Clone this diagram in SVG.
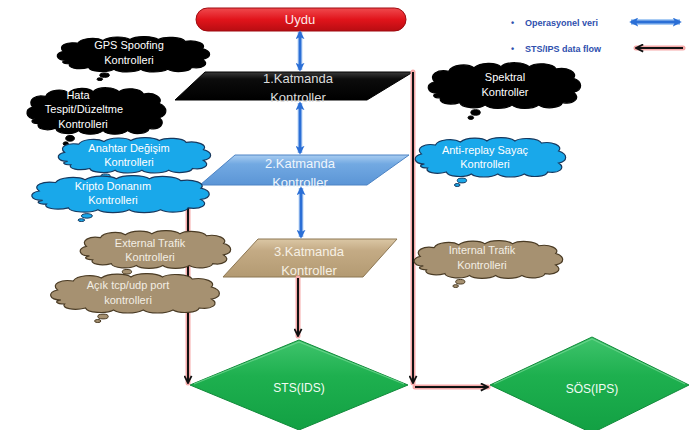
<svg xmlns="http://www.w3.org/2000/svg" xmlns:xlink="http://www.w3.org/1999/xlink" width="699" height="430" viewBox="0 0 699 430">
  <style>
    text { font-family: "Liberation Sans", Arial, sans-serif; text-anchor: middle; }
    .ct { font-size: 11px; fill: #ffffff; }
    .ct-tan { font-size: 11px; fill: #f3eee4; }
    .lt { font-size: 13px; }
    .dt { font-size: 12px; }
    .leg { font-size: 9px; font-weight: bold; fill: #2f4fae; text-anchor: start; }
    .cloud-black { fill: #000000; stroke: #000000; }
    .cloud-blue { fill: #19a8ea; stroke: #17385e; }
    .cloud-tan { fill: #a69171; stroke: #4a3b24; }
    .glow { fill: none; stroke: #f6a9a9; stroke-width: 5; stroke-linecap: round; }
    .flow { fill: none; stroke: #111111; stroke-width: 2; }
    .op-halo { fill: none; stroke: #d4e6fa; stroke-width: 5.5; }
    .op { fill: none; stroke: #2b6fd6; stroke-width: 3; }
  </style>
  <defs>
    <!-- cloud callout: lobed outline plus two trailing bubbles -->
    <symbol id="cloud" viewBox="0 0 100 50" preserveAspectRatio="none" overflow="visible">
      <path vector-effect="non-scaling-stroke" stroke-width="1.2" d="M8,27 C1,27 0,19 6,17 C2,11 8,6 15,8 C17,2 27,1 31,5 C35,0 45,0 48,4 C52,-1 63,0 66,4 C70,0 81,1 83,6 C90,4 97,9 94,14 C100,17 100,24 94,26 C99,31 94,37 87,35 C86,40 76,41 72,37 C68,41 58,41 55,37 C51,41 41,41 38,37 C34,41 23,40 22,35 C15,38 8,35 10,31 C5,31 4,28 8,27 Z"/>
      <ellipse vector-effect="non-scaling-stroke" stroke-width="1" cx="32" cy="43.5" rx="3" ry="2.4"/>
      <ellipse vector-effect="non-scaling-stroke" stroke-width="1" cx="29" cy="48" rx="1.8" ry="1.5"/>
    </symbol>
    <linearGradient id="gRed" x1="0" y1="0" x2="0" y2="1">
      <stop offset="0" stop-color="#f04a4e"/>
      <stop offset="0.5" stop-color="#e1141b"/>
      <stop offset="1" stop-color="#b80d12"/>
    </linearGradient>
    <linearGradient id="gBlack" x1="0" y1="0" x2="0" y2="1">
      <stop offset="0" stop-color="#3a3a3a"/>
      <stop offset="0.25" stop-color="#0c0c0c"/>
      <stop offset="1" stop-color="#000000"/>
    </linearGradient>
    <linearGradient id="gBlue" x1="0" y1="0" x2="0" y2="1">
      <stop offset="0" stop-color="#a9cdf1"/>
      <stop offset="0.3" stop-color="#72a9e2"/>
      <stop offset="1" stop-color="#5b95d6"/>
    </linearGradient>
    <linearGradient id="gTan" x1="0" y1="0" x2="0" y2="1">
      <stop offset="0" stop-color="#dbc7a5"/>
      <stop offset="0.3" stop-color="#c4ab85"/>
      <stop offset="1" stop-color="#b39a72"/>
    </linearGradient>
    <linearGradient id="gGreen" x1="0" y1="0" x2="0" y2="1">
      <stop offset="0" stop-color="#3fc46c"/>
      <stop offset="0.4" stop-color="#1eb04f"/>
      <stop offset="1" stop-color="#12a043"/>
    </linearGradient>
    <marker id="opHead" viewBox="0 0 10 10" refX="8" refY="5" markerWidth="3" markerHeight="3" orient="auto-start-reverse" markerUnits="strokeWidth">
      <path d="M0,0 L10,5 L0,10 L2.5,5 Z" fill="#2b6fd6"/>
    </marker>
    <marker id="flowHead" viewBox="0 0 10 10" refX="9" refY="5" markerWidth="4.5" markerHeight="4.5" orient="auto-start-reverse" markerUnits="strokeWidth">
      <path d="M1,1 L9,5 L1,9" fill="none" stroke="#111111" stroke-width="2" stroke-linejoin="miter"/>
    </marker>
  </defs>

  <rect width="699" height="430" fill="#ffffff"/>

  <!-- top: satellite -->
  <g id="uydu">
    <rect x="196" y="8" width="210" height="23" rx="11.5" ry="11.5" fill="url(#gRed)" stroke="#9e0b10" stroke-width="1"/>
    <text x="300" y="24" class="lt" fill="#fbe9e9">Uydu</text>
  </g>

  <!-- legend -->
  <g id="legend">
    <text x="511" y="26" class="leg">•</text>
    <text x="525" y="26" class="leg">Operasyonel veri</text>
    <text x="511" y="52" class="leg">•</text>
    <text x="525" y="52" class="leg">STS/IPS data flow</text>
    <line x1="631" y1="22" x2="680" y2="22" stroke="#a9ccf4" stroke-width="6"/>
    <line x1="631" y1="22" x2="680" y2="22" class="op" stroke-width="3" marker-start="url(#opHead)" marker-end="url(#opHead)"/>
    <line x1="636" y1="48" x2="683" y2="48" class="glow" stroke-width="7"/>
    <line x1="636" y1="48" x2="683" y2="48" class="flow" stroke-width="2.5" marker-start="url(#flowHead)"/>
  </g>

  <!-- layers -->
  <g id="katman1">
    <polygon points="205,72 413,72 367,100 175,100" fill="url(#gBlack)" stroke="#000" stroke-width="1"/>
    <text x="298" y="83" class="lt" fill="#dcdcdc">1.Katmanda</text>
    <text x="298" y="102" class="lt" fill="#dcdcdc">Kontroller</text>
  </g>
  <g id="katman2">
    <polygon points="235,155 409,155 367,185 200,185" fill="url(#gBlue)" stroke="#4c83c4" stroke-width="1"/>
    <text x="300" y="168" class="lt" fill="#eef5fc">2.Katmanda</text>
    <text x="300" y="187" class="lt" fill="#eef5fc">Kontroller</text>
  </g>
  <g id="katman3">
    <polygon points="258,239 397,239 363,277 223,277" fill="url(#gTan)" stroke="#8c7652" stroke-width="1"/>
    <text x="309" y="256" class="lt" fill="#f6f0e4">3.Katmanda</text>
    <text x="309" y="275" class="lt" fill="#f6f0e4">Kontroller</text>
  </g>

  <!-- decision nodes -->
  <g id="sts">
    <polygon points="190,385 299,340 408,385 299,430" fill="url(#gGreen)" stroke="#118a3a" stroke-width="1"/>
    <polyline points="194,384 299,342 404,384" fill="none" stroke="#6fd690" stroke-width="1.2" opacity="0.8"/>
    <text x="299" y="392" class="dt" fill="#f2fcf4">STS(IDS)</text>
  </g>
  <g id="sos">
    <polygon points="490,385 592,337 689,385 592,433" fill="url(#gGreen)" stroke="#118a3a" stroke-width="1"/>
    <polyline points="494,384 592,339 685,384" fill="none" stroke="#6fd690" stroke-width="1.2" opacity="0.8"/>
    <text x="592" y="393" class="dt" fill="#f2fcf4">SÖS(IPS)</text>
  </g>

  <!-- connectors -->
  <g id="connectors">
    <!-- operational data between layers -->
    <line x1="300" y1="32" x2="300" y2="70" class="op-halo"/>
    <line x1="300" y1="32" x2="300" y2="70" class="op" marker-start="url(#opHead)" marker-end="url(#opHead)"/>
    <line x1="300" y1="103" x2="300" y2="153" class="op-halo"/>
    <line x1="300" y1="103" x2="300" y2="153" class="op" marker-start="url(#opHead)" marker-end="url(#opHead)"/>
    <line x1="301" y1="188" x2="301" y2="237" class="op-halo"/>
    <line x1="301" y1="188" x2="301" y2="237" class="op" marker-start="url(#opHead)" marker-end="url(#opHead)"/>

    <!-- IDS/IPS data flow -->
    <line x1="188" y1="186" x2="188" y2="383" class="glow"/>
    <line x1="188" y1="186" x2="188" y2="383" class="flow" marker-end="url(#flowHead)"/>
    <line x1="298" y1="278" x2="298" y2="336" class="glow"/>
    <line x1="298" y1="278" x2="298" y2="336" class="flow" marker-end="url(#flowHead)"/>
    <line x1="413" y1="72" x2="413" y2="383" class="glow"/>
    <line x1="413" y1="72" x2="413" y2="383" class="flow" marker-end="url(#flowHead)"/>
    <line x1="415" y1="387" x2="488" y2="387" class="glow"/>
    <line x1="415" y1="387" x2="488" y2="387" class="flow" marker-end="url(#flowHead)"/>
  </g>

  <!-- control clouds -->
  <g id="gps-spoofing">
    <use xlink:href="#cloud" href="#cloud" class="cloud-black" x="54" y="36" width="158" height="45"/>
    <text x="129" y="49" class="ct">GPS Spoofing</text>
    <text x="129" y="64" class="ct">Kontrolleri</text>
  </g>
  <g id="hata-tespit">
    <use xlink:href="#cloud" href="#cloud" class="cloud-black" x="24" y="87" width="144" height="59"/>
    <text x="78" y="99" class="ct">Hata</text>
    <text x="84" y="113" class="ct">Tespit/Düzeltme</text>
    <text x="83" y="128" class="ct">Kontrolleri</text>
  </g>
  <g id="spektral">
    <use xlink:href="#cloud" href="#cloud" class="cloud-black" x="425" y="62" width="158" height="58"/>
    <text x="505" y="81" class="ct">Spektral</text>
    <text x="505" y="96" class="ct">Kontroller</text>
  </g>
  <g id="anahtar-degisim">
    <use xlink:href="#cloud" href="#cloud" class="cloud-blue" x="55" y="137" width="158" height="45"/>
    <text x="129" y="152" class="ct">Anahtar Değişim</text>
    <text x="129" y="166" class="ct">Kontrolleri</text>
  </g>
  <g id="kripto-donanim">
    <use xlink:href="#cloud" href="#cloud" class="cloud-blue" x="28" y="175" width="184" height="47"/>
    <text x="113" y="190" class="ct">Kripto Donanım</text>
    <text x="113" y="204" class="ct">Kontrolleri</text>
  </g>
  <g id="anti-replay">
    <use xlink:href="#cloud" href="#cloud" class="cloud-blue" x="412" y="137" width="156" height="50"/>
    <text x="485" y="154" class="ct">Anti-replay Sayaç</text>
    <text x="485" y="168" class="ct">Kontrolleri</text>
  </g>
  <g id="external-trafik">
    <use xlink:href="#cloud" href="#cloud" class="cloud-tan" x="77" y="230" width="156" height="48"/>
    <text x="150" y="247" class="ct-tan">External Trafik</text>
    <text x="150" y="261" class="ct-tan">Kontrolleri</text>
  </g>
  <g id="acik-port">
    <use xlink:href="#cloud" href="#cloud" class="cloud-tan" x="47" y="273" width="175" height="50"/>
    <text x="128" y="289" class="ct-tan">Açık tcp/udp port</text>
    <text x="128" y="304" class="ct-tan">kontrolleri</text>
  </g>
  <g id="internal-trafik">
    <use xlink:href="#cloud" href="#cloud" class="cloud-tan" x="411" y="240" width="154" height="48"/>
    <text x="482" y="254" class="ct-tan">Internal Trafik</text>
    <text x="482" y="269" class="ct-tan">Kontrolleri</text>
  </g>
</svg>
